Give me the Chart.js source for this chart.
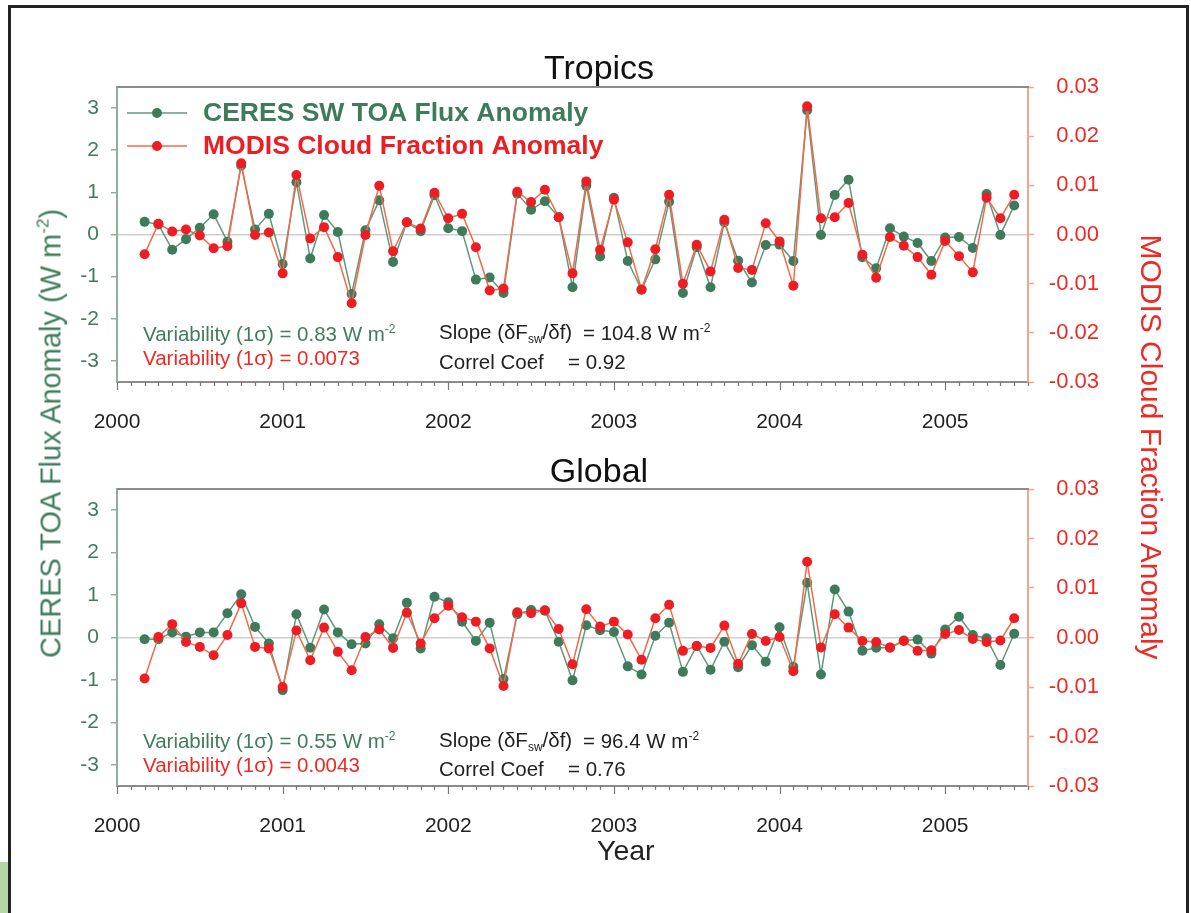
<!DOCTYPE html>
<html lang="en">
<head>
<meta charset="UTF-8">
<title>CERES vs MODIS anomalies</title>
<script src="https://cdn.jsdelivr.net/npm/chart.js@4.4.1/dist/chart.umd.min.js"></script>
<style>
  body { margin: 0; background: #fff; font-family: "Liberation Sans", Arial, sans-serif; }
  #page { position: relative; width: 1191px; height: 913px; overflow: hidden; background: #fff; }
  #frame { position: absolute; left: 8px; top: 5px; width: 1181px; height: 940px; border: 3px solid #222; box-sizing: border-box; }
  #greenbox { position: absolute; left: 0; top: 862px; width: 8px; height: 51px; background: #b5d6a7; }
  canvas { position: absolute; left: 0; }
  .txt { position: absolute; white-space: pre; line-height: 1; font-size: 20.5px; }
  .txt sup { font-size: 12px; vertical-align: 8px; }
  .txt sub { font-size: 12px; vertical-align: -4px; }
  .green { color: #3f7d5d; }
  .red { color: #ee2a24; }
  .dark { color: #222; }
  .ptitle { position: absolute; left: 399px; width: 400px; text-align: center; line-height: 1; font-size: 34px; color: #111; }
  .ytitle { position: absolute; width: 600px; text-align: center; line-height: 1; white-space: nowrap; }
  .ytitle sup { font-size: 17px; vertical-align: 12px; }
</style>
</head>
<body>
<div id="page">
  <div id="frame"></div>
  <div id="greenbox"></div>
  <canvas id="tropics" width="1191" height="440" style="top:0"></canvas>
  <canvas id="global" width="1191" height="473" style="top:440px"></canvas>

  <div class="ptitle" style="top:50px">Tropics</div>
  <div class="ptitle" style="top:453px">Global</div>

  <div class="ytitle green" style="left:-250px;top:418px;font-size:29px;transform:rotate(-90deg)">CERES TOA Flux Anomaly (W m<sup>-2</sup>)</div>
  <div class="ytitle red" style="left:851px;top:432px;font-size:30px;transform:rotate(90deg)">MODIS Cloud Fraction Anomaly</div>

  <div class="txt green" style="left:143px;top:323px">Variability (1σ) = 0.83 W m<sup>-2</sup></div>
  <div class="txt red" style="left:143px;top:348px">Variability (1σ) = 0.0073</div>
  <div class="txt dark" style="left:439px;top:322px">Slope (δF<sub>sw</sub>/δf)</div>
  <div class="txt dark" style="left:583px;top:322px">= 104.8 W m<sup>-2</sup></div>
  <div class="txt dark" style="left:439px;top:352px">Correl Coef</div>
  <div class="txt dark" style="left:568px;top:352px">= 0.92</div>

  <div class="txt green" style="left:143px;top:730px">Variability (1σ) = 0.55 W m<sup>-2</sup></div>
  <div class="txt red" style="left:143px;top:755px">Variability (1σ) = 0.0043</div>
  <div class="txt dark" style="left:439px;top:730px">Slope (δF<sub>sw</sub>/δf)</div>
  <div class="txt dark" style="left:583px;top:730px">= 96.4 W m<sup>-2</sup></div>
  <div class="txt dark" style="left:439px;top:759px">Correl Coef</div>
  <div class="txt dark" style="left:568px;top:759px">= 0.76</div>

  <div class="txt dark" style="left:597px;top:836px;font-size:28.5px">Year</div>
</div>

<script>
// monthly anomalies, Mar 2000 - Jun 2005
const months = [
  '2000-03','2000-04','2000-05','2000-06','2000-07','2000-08','2000-09','2000-10','2000-11','2000-12',
  '2001-01','2001-02','2001-03','2001-04','2001-05','2001-06','2001-07','2001-08','2001-09','2001-10','2001-11','2001-12',
  '2002-01','2002-02','2002-03','2002-04','2002-05','2002-06','2002-07','2002-08','2002-09','2002-10','2002-11','2002-12',
  '2003-01','2003-02','2003-03','2003-04','2003-05','2003-06','2003-07','2003-08','2003-09','2003-10','2003-11','2003-12',
  '2004-01','2004-02','2004-03','2004-04','2004-05','2004-06','2004-07','2004-08','2004-09','2004-10','2004-11','2004-12',
  '2005-01','2005-02','2005-03','2005-04','2005-05','2005-06'
];

const tropicsFlux = [
  0.30, 0.24, -0.36, -0.11, 0.16, 0.48, -0.17, 1.64, 0.12, 0.49,
  -0.70, 1.24, -0.57, 0.46, 0.06, -1.41, 0.10, 0.81, -0.65, 0.29, 0.08, 0.93,
  0.15, 0.08, -1.07, -1.02, -1.39, 0.97, 0.59, 0.79, 0.41, -1.25, 1.16, -0.52,
  0.87, -0.63, -1.31, -0.59, 0.78, -1.39, -0.30, -1.25, 0.29, -0.62, -1.14, -0.25,
  -0.24, -0.63, 2.95, -0.01, 0.94, 1.30, -0.54, -0.80, 0.15, -0.05, -0.20, -0.63,
  -0.07, -0.06, -0.32, 0.96, -0.01, 0.69
];
const tropicsCloud = [
  -0.0040, 0.0022, 0.0006, 0.0010, -0.0002, -0.0028, -0.0024, 0.0145, -0.0001, 0.0004,
  -0.0079, 0.0121, -0.0008, 0.0015, -0.0046, -0.0140, -0.0001, 0.0099, -0.0034, 0.0025, 0.0012, 0.0085,
  0.0033, 0.0042, -0.0026, -0.0114, -0.0110, 0.0087, 0.0066, 0.0091, 0.0035, -0.0079, 0.0108, -0.0031,
  0.0071, -0.0016, -0.0112, -0.0030, 0.0081, -0.0100, -0.0021, -0.0075, 0.0030, -0.0068, -0.0072, 0.0023,
  -0.0014, -0.0104, 0.0261, 0.0033, 0.0035, 0.0064, -0.0041, -0.0088, -0.0005, -0.0023, -0.0046, -0.0082,
  -0.0013, -0.0044, -0.0077, 0.0075, 0.0033, 0.0081
];
const globalFlux = [
  -0.04, -0.04, 0.12, 0.02, 0.12, 0.12, 0.57, 1.02, 0.25, -0.14,
  -1.24, 0.55, -0.24, 0.66, 0.12, -0.16, -0.14, 0.31, -0.02, 0.82, -0.26, 0.96,
  0.83, 0.37, -0.08, 0.35, -0.98, 0.55, 0.65, 0.63, -0.10, -1.01, 0.29, 0.17,
  0.13, -0.68, -0.87, 0.04, 0.35, -0.81, -0.20, -0.76, -0.10, -0.70, -0.18, -0.57,
  0.24, -0.69, 1.29, -0.87, 1.13, 0.61, -0.31, -0.24, -0.24, -0.07, -0.05, -0.38,
  0.19, 0.49, 0.06, -0.02, -0.65, 0.09
];
const globalCloud = [
  -0.0083, 0.0001, 0.0027, -0.0009, -0.0019, -0.0036, 0.0005, 0.0069, -0.0019, -0.0022,
  -0.0100, 0.0014, -0.0046, 0.0020, -0.0029, -0.0066, 0.0001, 0.0016, -0.0021, 0.0050, -0.0012, 0.0039,
  0.0064, 0.0041, 0.0032, -0.0022, -0.0098, 0.0051, 0.0049, 0.0055, 0.0017, -0.0054, 0.0057, 0.0022,
  0.0032, 0.0006, -0.0045, 0.0039, 0.0066, -0.0027, -0.0017, -0.0021, 0.0024, -0.0053, 0.0007, -0.0007,
  0.0001, -0.0068, 0.0153, -0.0020, 0.0047, 0.0020, -0.0007, -0.0009, -0.0020, -0.0007, -0.0027, -0.0026,
  0.0007, 0.0015, -0.0003, -0.0009, -0.0006, 0.0039
];

const yearTicks = [2000, 2001, 2002, 2003, 2004, 2005];
const fluxTicks = [-3, -2, -1, 0, 1, 2, 3];
const cloudTicks = [-0.03, -0.02, -0.01, 0, 0.01, 0.02, 0.03];

const greenDot = '#3d7b5c';
const greenLine = '#5f987b';
const redDot = '#ee1d23';
const redLine = '#f3694a';
const greenAxis = '#8fb09c';
const redAxis = '#f5a58f';
const FONT = '"Liberation Sans", Arial, sans-serif';

function decYear(m) {
  const p = m.split('-');
  return parseInt(p[0], 10) + (parseInt(p[1], 10) - 1) / 12;
}
function toPoints(vals) {
  return vals.map((v, i) => ({ x: decYear(months[i]), y: v }));
}

// top frame line + monthly tick marks under the x axis
const frameTicks = {
  id: 'frameTicks',
  afterDraw(chart) {
    const { ctx, chartArea: a, scales: { x } } = chart;
    ctx.save();
    ctx.strokeStyle = '#8c8c8c';
    ctx.lineWidth = 2;
    ctx.beginPath();
    ctx.moveTo(a.left, a.top);
    ctx.lineTo(a.right + 1, a.top);
    ctx.stroke();
    ctx.lineWidth = 1.2;
    ctx.strokeStyle = '#777';
    for (let m = 0; m <= 66; m++) {
      const px = Math.round(x.getPixelForValue(2000 + m / 12)) + 0.5;
      const len = m % 12 === 0 ? 8 : 4;
      ctx.beginPath();
      ctx.moveTo(px, a.bottom);
      ctx.lineTo(px, a.bottom + len);
      ctx.stroke();
    }
    ctx.restore();
  }
};

const legendBox = {
  id: 'legendBox',
  afterDraw(chart) {
    const ctx = chart.ctx;
    const items = [
      { text: 'CERES SW TOA Flux Anomaly', line: greenLine, dot: greenDot, y: 113 },
      { text: 'MODIS Cloud Fraction Anomaly', line: redLine, dot: redDot, y: 146 }
    ];
    ctx.save();
    items.forEach(it => {
      ctx.strokeStyle = it.line;
      ctx.lineWidth = 1.5;
      ctx.beginPath();
      ctx.moveTo(127, it.y);
      ctx.lineTo(187, it.y);
      ctx.stroke();
      ctx.fillStyle = it.dot;
      ctx.beginPath();
      ctx.arc(157, it.y, 5, 0, Math.PI * 2);
      ctx.fill();
      ctx.font = 'bold 26.5px ' + FONT;
      ctx.textBaseline = 'middle';
      ctx.fillText(it.text, 203, it.y + 1);
    });
    ctx.restore();
  }
};

function makeChart(id, topPad, fluxVals, cloudVals, xHeight, extraPlugins) {
  return new Chart(document.getElementById(id), {
    type: 'line',
    data: {
      datasets: [{
        label: 'CERES SW TOA Flux Anomaly',
        data: toPoints(fluxVals),
        yAxisID: 'y',
        borderColor: greenLine,
        borderWidth: 1.5,
        pointRadius: 5,
        pointBorderWidth: 0,
        pointBackgroundColor: greenDot,
        tension: 0,
        order: 2
      }, {
        label: 'MODIS Cloud Fraction Anomaly',
        data: toPoints(cloudVals),
        yAxisID: 'y1',
        borderColor: redLine,
        borderWidth: 1.5,
        pointRadius: 5,
        pointBorderWidth: 0,
        pointBackgroundColor: redDot,
        tension: 0,
        order: 1
      }]
    },
    options: {
      responsive: false,
      animation: false,
      layout: { padding: { left: 0, top: topPad, bottom: 0, right: 92 } },
      plugins: {
        legend: { display: false },
        tooltip: { enabled: false },
        title: { display: false }
      },
      scales: {
        x: {
          type: 'linear',
          min: 2000,
          max: 2005.5,
          afterBuildTicks: s => { s.ticks = yearTicks.map(v => ({ value: v })); },
          afterFit: s => { s.height = xHeight; },
          grid: { display: false },
          border: { color: '#8c8c8c', width: 2 },
          ticks: {
            color: '#222',
            font: { family: FONT, size: 21 },
            padding: 20,
            maxRotation: 0,
            autoSkip: false,
            callback: v => String(v)
          }
        },
        y: {
          position: 'left',
          min: -3.5,
          max: 3.5,
          afterBuildTicks: s => { s.ticks = fluxTicks.map(v => ({ value: v })); },
          afterFit: s => { s.width = 117; },
          grid: {
            color: c => (c.tick && c.tick.value === 0) ? '#cfcfcf' : 'rgba(0,0,0,0)',
            lineWidth: 1.5,
            tickColor: greenAxis,
            tickLength: 6,
            tickWidth: 1.5
          },
          border: { color: greenAxis, width: 2 },
          ticks: {
            color: '#3f7d5d',
            font: { family: FONT, size: 21 },
            padding: 12,
            callback: v => String(v)
          }
        },
        y1: {
          position: 'right',
          min: -0.03,
          max: 0.03,
          afterBuildTicks: s => { s.ticks = cloudTicks.map(v => ({ value: v })); },
          afterFit: s => { s.width = 71; },
          grid: {
            drawOnChartArea: false,
            tickColor: redAxis,
            tickLength: 6,
            tickWidth: 1.5
          },
          border: { color: redAxis, width: 2 },
          ticks: {
            color: '#ee2a24',
            font: { family: FONT, size: 22 },
            padding: 15,
            crossAlign: 'far',
            callback: v => (Math.abs(v) < 1e-9 ? '0.00' : v.toFixed(2))
          }
        }
      }
    },
    plugins: [frameTicks].concat(extraPlugins)
  });
}

makeChart('tropics', 87, tropicsFlux, tropicsCloud, 58, [legendBox]);
makeChart('global', 49, globalFlux, globalCloud, 127, []);
</script>
</body>
</html>
